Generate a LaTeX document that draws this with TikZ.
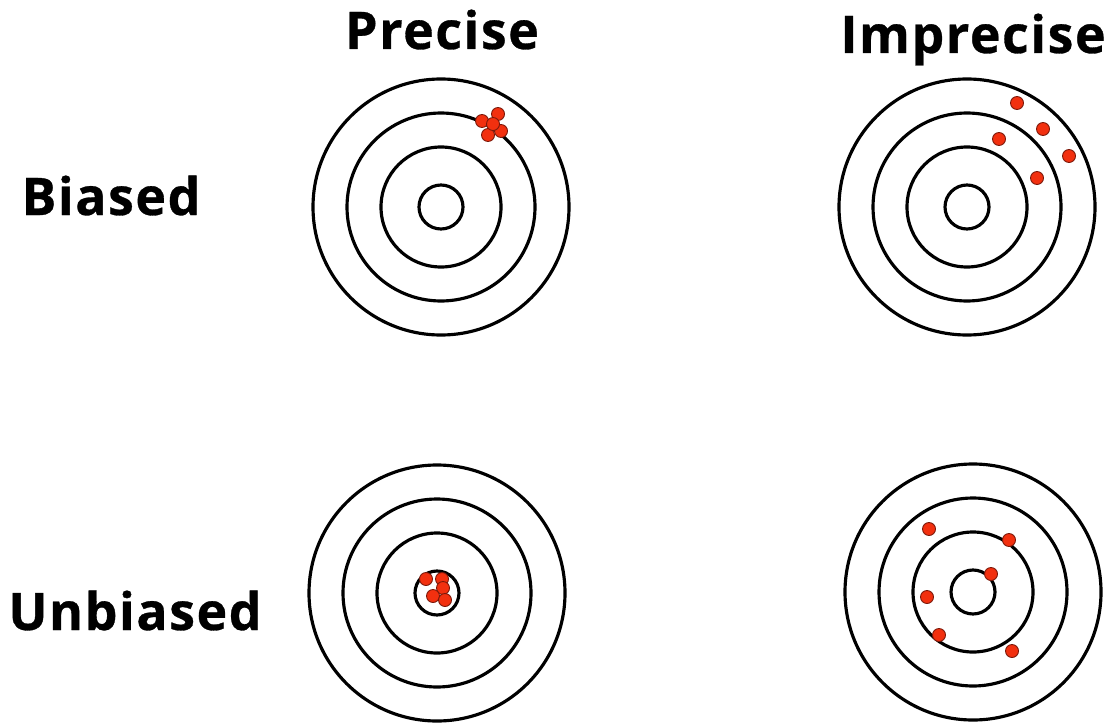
\documentclass[tikz,border=0pt]{standalone}
\usepackage{fontspec}
\setsansfont{Open Sans}[BoldFeatures={LetterSpace=3, FakeBold=0.6}]
\usetikzlibrary{positioning}
\definecolor{shotRed}{HTML}{F2300F}
\definecolor{shotEdge}{HTML}{7A180A}
\begin{document}
\begin{tikzpicture}[
    x=0.02cm, y=-0.02cm,
    ring/.style={draw=black, line width=1.8pt},
    shot/.style={fill=shotRed, draw=shotEdge, line width=0.5pt},
    headLabel/.style={font=\sffamily\bfseries\fontsize{29.5}{34}\selectfont, anchor=base}
]
\useasboundingbox (0, 0) rectangle (1115, 723);

% column and row headings
\node[headLabel] (precise) at (442, 49) {Precise};
\node[headLabel] (imprecise) at (973, 53) {Imprecise};
\node[headLabel] (biased) at (111, 215) {Biased};
\node[headLabel] (unbiased) at (135, 630) {Unbiased};

% the four targets
\foreach \cx/\cy in {441/207, 967/207, 437/593, 973/592}
    \foreach \r in {128, 94, 60, 22}
        \draw[ring] (\cx, \cy) circle[radius=\r];

% biased and precise
\foreach \px/\py in {482/121, 498/114, 501/131, 488/135, 493/124}
    \draw[shot] (\px, \py) circle[radius=6.5];

% biased and imprecise
\foreach \px/\py in {1017/103, 1043/129, 999/139, 1069/156, 1037/178}
    \draw[shot] (\px, \py) circle[radius=6.5];

% unbiased and precise
\foreach \px/\py in {426/579, 442/579, 443/588, 433/596, 445/600}
    \draw[shot] (\px, \py) circle[radius=6.5];

% unbiased and imprecise
\foreach \px/\py in {929/529, 1009/540, 991/574, 927/597, 939/635, 1012/651}
    \draw[shot] (\px, \py) circle[radius=6.5];

\end{tikzpicture}
\end{document}
